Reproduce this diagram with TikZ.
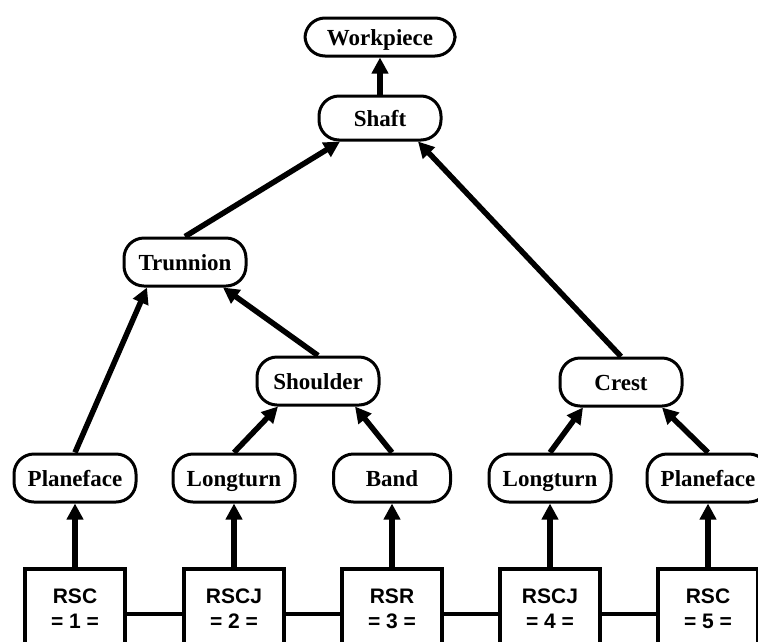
\documentclass[tikz,border=0pt]{standalone}
\usepackage{fontspec}
\setmainfont{Liberation Serif}
\newfontfamily\boxfont{Liberation Sans}
\usetikzlibrary{arrows.meta,calc}
\begin{document}
\begin{tikzpicture}[x=1pt,y=-1pt,
  part/.style={draw, line width=3pt, rounded corners=20pt, minimum width=122pt,
    minimum height=48pt, inner sep=0pt, text height=20pt, text depth=4pt,
    font=\bfseries\fontsize{23}{25}\selectfont},
  unit/.style={draw, line width=3.6pt, minimum width=100pt, minimum height=80pt,
    anchor=north, inner sep=0pt, align=center,
    font=\boxfont\bfseries\fontsize{21}{25}\selectfont},
  link/.style={line width=5.5pt, -{Triangle[length=16pt,width=16pt]}},
  bar/.style={line width=3.4pt}]
\clip (0,0) rectangle (758,641);
\useasboundingbox (0,0) rectangle (758,641);
% tree nodes
\node[part, minimum width=150pt, minimum height=38pt] (work) at (380,37) {Workpiece};
\node[part, minimum height=44pt] (shaft) at (380,118) {Shaft};
\node[part] (trun) at (185,262) {Trunnion};
\node[part] (shoul) at (318,381) {Shoulder};
\node[part] (crest) at (621,382) {Crest};
\node[part] (pl1) at (75,478) {Planeface};
\node[part] (lt1) at (234,478) {Longturn};
\node[part, minimum width=117pt] (band) at (392,478) {Band};
\node[part] (lt2) at (550,478) {Longturn};
\node[part] (pl2) at (708,478) {Planeface};
% bottom units
\node[unit] (u1) at (75,567) {RSC\\= 1 =};
\node[unit] (u2) at (234,567) {RSCJ\\= 2 =};
\node[unit] (u3) at (392,567) {RSR\\= 3 =};
\node[unit] (u4) at (550,567) {RSCJ\\= 4 =};
\node[unit] (u5) at (708,567) {RSC\\= 5 =};
% bars between units
\draw[bar] ([yshift=-5pt]u1.east) -- ([yshift=-5pt]u2.west);
\draw[bar] ([yshift=-5pt]u2.east) -- ([yshift=-5pt]u3.west);
\draw[bar] ([yshift=-5pt]u3.east) -- ([yshift=-5pt]u4.west);
\draw[bar] ([yshift=-5pt]u4.east) -- ([yshift=-5pt]u5.west);
% vertical arrows
\draw[link] (u1.north) -- (pl1.south);
\draw[link] (u2.north) -- (lt1.south);
\draw[link] (u3.north) -- (band.south);
\draw[link] (u4.north) -- (lt2.south);
\draw[link] (u5.north) -- (pl2.south);
\draw[link] (shaft.north) -- (work.south);
% slanted arrows
\draw[link] (pl1.north) -- ([xshift=-38pt]trun.south);
\draw[link] (shoul.north) -- ([xshift=38pt]trun.south);
\draw[link] (lt1.north) -- ([xshift=-40pt]shoul.south);
\draw[link] (band.north) -- ([xshift=37pt]shoul.south);
\draw[link] (lt2.north) -- ([xshift=-38pt]crest.south);
\draw[link] (pl2.north) -- ([xshift=41pt]crest.south);
\draw[link] (trun.north) -- ([xshift=-40pt]shaft.south);
\draw[link] (crest.north) -- ([xshift=38pt]shaft.south);
\end{tikzpicture}
\end{document}
